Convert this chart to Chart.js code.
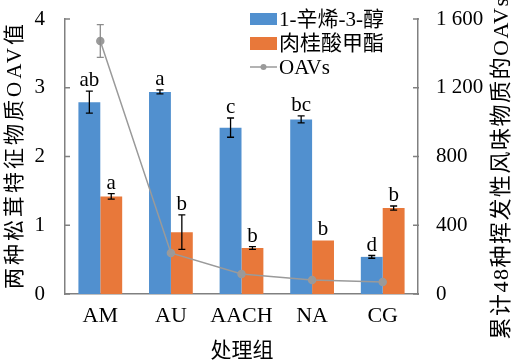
<!DOCTYPE html>
<html><head><meta charset="utf-8">
<script src="https://cdn.jsdelivr.net/npm/chart.js@4.4.0/dist/chart.umd.min.js"></script>
<style>html,body{margin:0;padding:0;background:#fff}#wrap{width:516px;height:363px}</style>
</head><body><div id="wrap"><canvas id="c" width="516" height="363"></canvas></div>
<script>
const categories = ["AM", "AU", "AACH", "NA", "CG"];
const octenol = [2.79, 2.94, 2.42, 2.54, 0.54];
const octenolErr = [0.16, 0.03, 0.14, 0.05, 0.02];
const octenolLetters = ["ab", "a", "c", "bc", "d"];
const cinnamate = [1.42, 0.90, 0.67, 0.78, 1.25];
const cinnamateErr = [0.04, 0.25, 0.02, 0, 0.03];
const cinnamateLetters = ["a", "b", "b", "b", "b"];
const totalOAV = [1472, 239, 116, 81, 70];
const totalOAVErr = [95, 0, 0, 0, 0];
const leftTicks = [0, 1, 2, 3, 4];
const rightTicks = [0, 400, 800, 1200, 1600];
const seriesNames = ["1-辛烯-3-醇", "肉桂酸甲酯", "OAVs"];
const leftTitle = "两种松茸特征物质OAV值";
const rightTitle = "累计48种挥发性风味物质的OAVs";
const xTitle = "处理组";

const FONT = "'Liberation Serif', 'Noto Sans CJK SC', serif";
const BLUE = "#5190cf", ORANGE = "#e8783a", GRAY = "#9a9a9a", AXIS = "#808080";

const extras = {
  id: "extras",
  afterDatasetsDraw(chart) {
    const ctx = chart.ctx;
    const ys = chart.scales.y, y2 = chart.scales.y2;
    const errs = [totalOAVErr, octenolErr, cinnamateErr];
    const vals = [totalOAV, octenol, cinnamate];
    const letters = [null, octenolLetters, cinnamateLetters];
    const colors = ["#8c8c8c", "#000", "#000"];
    ctx.save();
    for (let d = 0; d < 3; d++) {
      const meta = chart.getDatasetMeta(d);
      const sc = d === 0 ? y2 : ys;
      meta.data.forEach((el, i) => {
        const v = vals[d][i], e = errs[d][i];
        const top = sc.getPixelForValue(v + e), bot = sc.getPixelForValue(v - e);
        if (e > 0) {
          ctx.strokeStyle = colors[d]; ctx.lineWidth = 1.3;
          ctx.beginPath();
          ctx.moveTo(el.x, top); ctx.lineTo(el.x, bot);
          ctx.moveTo(el.x - 3.5, top); ctx.lineTo(el.x + 3.5, top);
          ctx.moveTo(el.x - 3.5, bot); ctx.lineTo(el.x + 3.5, bot);
          ctx.stroke();
        }
        if (letters[d]) {
          ctx.fillStyle = "#000";
          ctx.font = "21px " + FONT;
          ctx.textAlign = "center"; ctx.textBaseline = "alphabetic";
          ctx.fillText(letters[d][i], el.x, top - 5);
        }
      });
    }
    ctx.restore();
  },
  afterDraw(chart) {
    const ctx = chart.ctx;
    const a = chart.chartArea;
    const ys = chart.scales.y, y2 = chart.scales.y2;
    ctx.save();
    ctx.strokeStyle = AXIS; ctx.lineWidth = 1.3;
    ctx.beginPath();
    leftTicks.forEach(t => { const p = ys.getPixelForValue(t); ctx.moveTo(a.left, p); ctx.lineTo(a.left + 5, p); });
    rightTicks.forEach(t => { const p = y2.getPixelForValue(t); ctx.moveTo(a.right - 5, p); ctx.lineTo(a.right + 1, p); });
    ctx.stroke();
    ctx.fillStyle = "#000";
    ctx.textAlign = "center"; ctx.textBaseline = "middle";
    ctx.font = "21px " + FONT;
    ctx.letterSpacing = "3px";
    ctx.save(); ctx.translate(15, 155); ctx.rotate(-Math.PI / 2); ctx.fillText(leftTitle, 0, 0); ctx.restore();
    ctx.font = "22px " + FONT;
    ctx.letterSpacing = "1.5px";
    ctx.save(); ctx.translate(502, 168); ctx.rotate(-Math.PI / 2); ctx.fillText(rightTitle, 0, 0); ctx.restore();
    ctx.letterSpacing = "0px";
    ctx.font = "21px " + FONT;
    ctx.fillText(xTitle, 242, 351);
    ctx.textAlign = "left";
    ctx.fillStyle = BLUE; ctx.fillRect(250, 13, 27, 12);
    ctx.fillStyle = ORANGE; ctx.fillRect(250, 37, 27, 13);
    ctx.strokeStyle = GRAY; ctx.lineWidth = 1.5;
    ctx.beginPath(); ctx.moveTo(250, 67); ctx.lineTo(277, 67); ctx.stroke();
    ctx.fillStyle = GRAY; ctx.beginPath(); ctx.arc(263.5, 67, 3, 0, Math.PI * 2); ctx.fill();
    ctx.fillStyle = "#000";
    ctx.fillText(seriesNames[0], 279, 20);
    ctx.fillText(seriesNames[1], 279, 44);
    ctx.fillText(seriesNames[2], 279, 68);
    ctx.restore();
  }
};

function fixV(w) {
  return function (s) { s.width = w; s.paddingTop = 0; s.paddingBottom = 0; };
}

new Chart(document.getElementById("c"), {
  data: {
    labels: categories,
    datasets: [
      { type: "line", label: seriesNames[2], data: totalOAV, yAxisID: "y2", order: 0,
        borderColor: GRAY, backgroundColor: GRAY, borderWidth: 1.5, pointRadius: 3.5,
        pointBackgroundColor: GRAY, pointBorderColor: GRAY, tension: 0 },
      { type: "bar", label: seriesNames[0], data: octenol, yAxisID: "y", order: 1,
        backgroundColor: BLUE, categoryPercentage: 0.62, barPercentage: 1 },
      { type: "bar", label: seriesNames[1], data: cinnamate, yAxisID: "y", order: 1,
        backgroundColor: ORANGE, categoryPercentage: 0.62, barPercentage: 1 }
    ]
  },
  options: {
    responsive: false, animation: false, devicePixelRatio: 1,
    layout: { padding: { top: 19, left: 0, right: 0, bottom: 0 } },
    plugins: { legend: { display: false }, tooltip: { enabled: false } },
    scales: {
      x: {
        offset: true,
        grid: { display: false },
        border: { display: true, color: AXIS, width: 1.5 },
        ticks: { color: "#000", font: { family: FONT, size: 22 }, padding: 1 },
        afterFit(s) { s.height = 69; s.paddingLeft = 0; s.paddingRight = 0; }
      },
      y: {
        position: "left", min: 0, max: 4,
        grid: { display: false },
        border: { display: true, color: AXIS, width: 1.5 },
        ticks: { stepSize: 1, color: "#000", font: { family: FONT, size: 21 }, padding: 12 },
        afterFit: fixV(65)
      },
      y2: {
        position: "right", min: 0, max: 1600,
        grid: { display: false },
        border: { display: true, color: AXIS, width: 1.5 },
        ticks: { stepSize: 400, color: "#000", font: { family: FONT, size: 21 }, padding: 10,
          callback: v => String(v).replace(/\B(?=(\d{3})+(?!\d))/g, " ") },
        afterFit: fixV(98)
      }
    }
  },
  plugins: [extras]
});
</script></body></html>
